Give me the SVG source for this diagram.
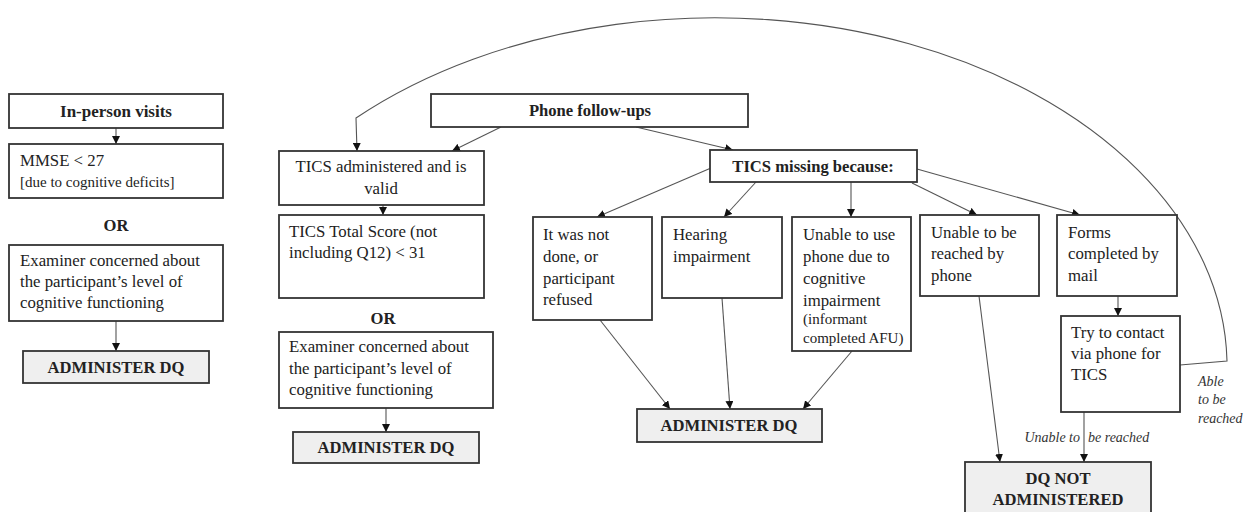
<svg xmlns="http://www.w3.org/2000/svg" width="1258" height="512" viewBox="0 0 1258 512">
<defs>
<marker id="ah" viewBox="0 0 10 10" refX="10" refY="5" markerWidth="8" markerHeight="8" markerUnits="userSpaceOnUse" orient="auto"><path d="M0,0 L10,5 L0,10 z" fill="#111"/></marker>
<style>
.box{fill:#fff;stroke:#333;stroke-width:1.8}
.gbox{fill:#efefef;stroke:#333;stroke-width:1.8}
.t{font-family:"Liberation Serif",serif;font-size:16.8px;fill:#222}
.s{font-family:"Liberation Serif",serif;font-size:15px;fill:#222}
.b{font-family:"Liberation Serif",serif;font-size:16.6px;font-weight:bold;fill:#222;text-anchor:middle}
.i{font-family:"Liberation Serif",serif;font-size:14px;font-style:italic;fill:#333}
.c{fill:none;stroke:#555;stroke-width:1.1;marker-end:url(#ah)}
</style>
</defs>
<rect width="1258" height="512" fill="#fff"/>
<g id="connectors">
<path class="c" d="M116,128 L116,144"/>
<path class="c" d="M116,321 L116,351"/>
<path class="c" d="M383,205 L383,215"/>
<path class="c" d="M386,408 L386,432"/>
<path class="c" d="M501,127 L452,151"/>
<path class="c" d="M636,127 L733,150"/>
<path class="c" d="M711,168 L597,217"/>
<path class="c" d="M756,182 L724,217"/>
<path class="c" d="M851,182 L851,217"/>
<path class="c" d="M912,183 L977,215"/>
<path class="c" d="M917,169 L1080,215"/>
<path class="c" d="M1118,296 L1118,316"/>
<path class="c" d="M1084,412 L1084,462"/>
<path class="c" d="M979,296 L1000,462"/>
<path class="c" d="M600,320 L670,409"/>
<path class="c" d="M722,298 L730,409"/>
<path class="c" d="M852,351 L803,409"/>
<path class="c" d="M1180,365 L1227,361 A512,349 0 0 0 356,118 L357,151"/>
<text class="i" x="1080" y="442" text-anchor="end">Unable to</text>
<text class="i" x="1088" y="442">be reached</text>
<text class="i" x="1198" y="386">Able</text>
<text class="i" x="1198" y="404">to be</text>
<text class="i" x="1198" y="423">reached</text>
</g>
<g id="inperson"><rect class="box" x="9" y="94" width="214" height="34"/><text class="b" x="116" y="117" style="font-size:17px">In-person visits</text></g>
<g id="mmse"><rect class="box" x="9" y="144" width="214" height="54"/><text class="t" x="20" y="166">MMSE &lt; 27</text><text class="s" x="20" y="187">[due to cognitive deficits]</text></g>
<g id="or1"><text class="b" x="116" y="231">OR</text></g>
<g id="examiner1"><rect class="box" x="9" y="245" width="214" height="76"/><text class="t" x="20" y="266">Examiner concerned about</text><text class="t" x="20" y="287">the participant’s level of</text><text class="t" x="20" y="308">cognitive functioning</text></g>
<g id="admin1"><rect class="gbox" x="23" y="351" width="186" height="32"/><text class="b" x="116" y="373">ADMINISTER DQ</text></g>
<g id="phone"><rect class="box" x="431" y="94" width="317" height="33"/><text class="b" x="590" y="116">Phone follow-ups</text></g>
<g id="ticsvalid"><rect class="box" x="279" y="151" width="205" height="54"/><text class="t" x="381" y="172" text-anchor="middle">TICS administered and is</text><text class="t" x="381" y="194" text-anchor="middle">valid</text></g>
<g id="ticsscore"><rect class="box" x="279" y="215" width="205" height="83"/><text class="t" x="289" y="237">TICS Total Score (not</text><text class="t" x="289" y="258">including Q12) &lt; 31</text></g>
<g id="or2"><text class="b" x="383" y="324">OR</text></g>
<g id="examiner2"><rect class="box" x="279" y="332" width="214" height="76"/><text class="t" x="289" y="352">Examiner concerned about</text><text class="t" x="289" y="374">the participant’s level of</text><text class="t" x="289" y="395">cognitive functioning</text></g>
<g id="admin2"><rect class="gbox" x="293" y="432" width="186" height="31"/><text class="b" x="386" y="453">ADMINISTER DQ</text></g>
<g id="ticsmissing"><rect class="box" x="710" y="150" width="207" height="32"/><text class="b" x="813" y="172">TICS missing because:</text></g>
<g id="notdone"><rect class="box" x="533" y="217" width="119" height="103"/><text class="t" x="543" y="240">It was not</text><text class="t" x="543" y="262">done, or</text><text class="t" x="543" y="284">participant</text><text class="t" x="543" y="305">refused</text></g>
<g id="hearing"><rect class="box" x="662" y="217" width="120" height="81"/><text class="t" x="673" y="240">Hearing</text><text class="t" x="673" y="262">impairment</text></g>
<g id="unableuse"><rect class="box" x="792" y="217" width="119" height="134"/><text class="t" x="803" y="240">Unable to use</text><text class="t" x="803" y="262">phone due to</text><text class="t" x="803" y="284">cognitive</text><text class="t" x="803" y="306">impairment</text><text class="s" x="803" y="324">(informant</text><text class="s" x="803" y="343">completed AFU)</text></g>
<g id="unablereach"><rect class="box" x="920" y="215" width="119" height="81"/><text class="t" x="931" y="238">Unable to be</text><text class="t" x="931" y="259">reached by</text><text class="t" x="931" y="281">phone</text></g>
<g id="mail"><rect class="box" x="1057" y="215" width="120" height="81"/><text class="t" x="1068" y="238">Forms</text><text class="t" x="1068" y="259">completed by</text><text class="t" x="1068" y="281">mail</text></g>
<g id="trycontact"><rect class="box" x="1061" y="316" width="119" height="96"/><text class="t" x="1071" y="338">Try to contact</text><text class="t" x="1071" y="359">via phone for</text><text class="t" x="1071" y="380">TICS</text></g>
<g id="admin3"><rect class="gbox" x="637" y="409" width="185" height="33"/><text class="b" x="729" y="431">ADMINISTER DQ</text></g>
<g id="dqnot"><rect class="gbox" x="965" y="462" width="186" height="60"/><text class="b" x="1058" y="484">DQ NOT</text><text class="b" x="1058" y="505">ADMINISTERED</text></g>
</svg>
